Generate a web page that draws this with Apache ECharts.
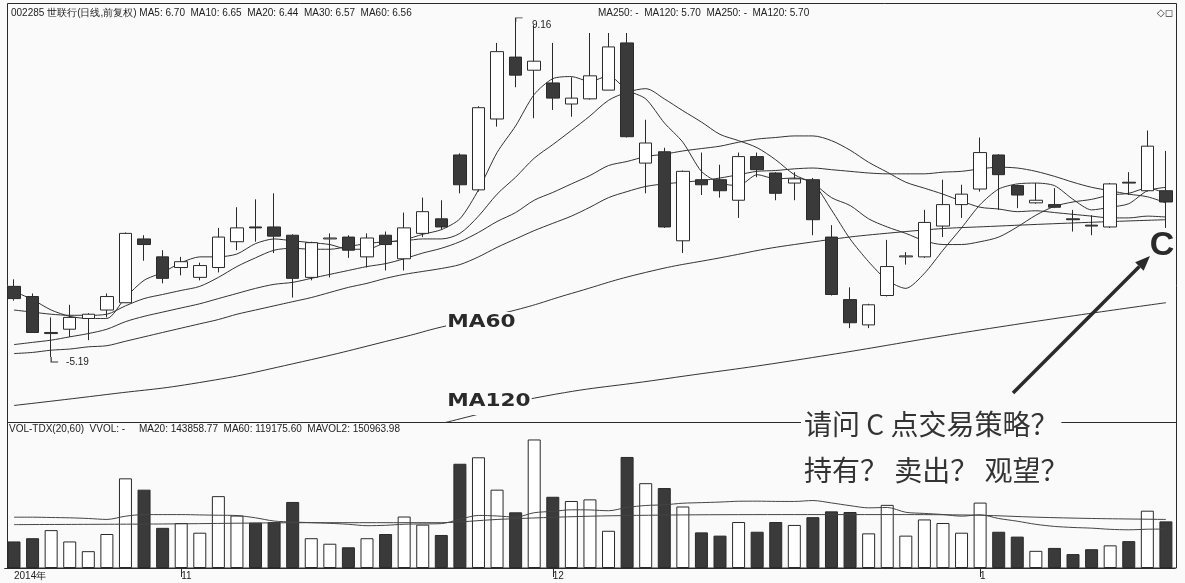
<!DOCTYPE html>
<html><head><meta charset="utf-8">
<script src="https://cdn.jsdelivr.net/npm/echarts@6/dist/echarts.min.js"></script>
<style>html,body{margin:0;padding:0;background:#fafafa}#c{width:1185px;height:583px}</style>
</head><body><div id="c"></div>
<script>
const dates = ['2014-10-21','2014-10-22','2014-10-23','2014-10-24','2014-10-27','2014-10-28','2014-10-29','2014-10-30','2014-10-31',
'2014-11-03','2014-11-04','2014-11-05','2014-11-06','2014-11-07','2014-11-10','2014-11-11','2014-11-12','2014-11-13','2014-11-14','2014-11-17','2014-11-18','2014-11-19','2014-11-20','2014-11-21','2014-11-24','2014-11-25','2014-11-26','2014-11-27','2014-11-28',
'2014-12-01','2014-12-02','2014-12-03','2014-12-04','2014-12-05','2014-12-08','2014-12-09','2014-12-10','2014-12-11','2014-12-12','2014-12-15','2014-12-16','2014-12-17','2014-12-18','2014-12-19','2014-12-22','2014-12-23','2014-12-24','2014-12-25','2014-12-26','2014-12-29','2014-12-30','2014-12-31',
'2015-01-05','2015-01-06','2015-01-07','2015-01-08','2015-01-09','2015-01-12','2015-01-13','2015-01-14','2015-01-15','2015-01-16','2015-01-19'];
const opens  = [5.85,5.75,5.40,5.44,5.54,5.62,5.69,6.34,6.15,6.04,5.94,6.04,6.31,6.47,6.47,6.38,5.94,6.34,6.36,6.15,6.38,6.13,6.40,6.56,7.31,6.89,7.77,8.63,8.44,8.26,7.97,8.04,8.16,8.84,7.21,7.35,6.32,7.01,7.01,6.77,7.29,7.09,6.97,7.01,6.36,5.72,5.48,5.76,6.15,6.15,6.48,6.72,6.90,7.31,6.94,6.74,6.72,6.56,6.49,6.47,6.98,6.88,6.88];
const closes = [5.73,5.41,5.41,5.55,5.58,5.75,6.40,6.28,5.93,6.10,6.06,6.36,6.46,6.46,6.37,5.93,6.30,6.35,6.22,6.35,6.28,6.46,6.64,6.47,6.95,7.92,8.71,8.37,8.57,8.05,8.05,8.36,8.78,7.54,7.46,6.47,7.11,6.95,6.88,7.29,7.13,6.85,7.02,6.55,5.77,5.50,5.67,6.05,6.16,6.52,6.72,6.84,7.34,7.07,6.83,6.77,6.69,6.55,6.48,6.96,6.97,7.42,6.75];
const highs  = [5.92,5.78,5.55,5.67,5.59,5.78,6.41,6.38,6.22,6.15,6.09,6.46,6.69,6.78,6.85,6.39,6.31,6.40,6.38,6.40,6.42,6.63,6.80,6.77,7.33,7.94,8.84,9.16,9.11,8.84,8.34,8.99,8.99,8.99,7.76,7.40,7.12,7.34,7.19,7.34,7.34,7.10,7.10,7.03,6.49,5.84,5.68,6.33,6.20,6.66,7.01,6.95,7.53,7.32,6.95,6.97,6.91,6.66,6.60,6.97,7.10,7.62,7.36];
const lows   = [5.71,5.41,5.19,5.37,5.34,5.55,5.69,6.11,5.88,5.96,5.91,5.99,6.22,6.31,6.19,5.74,5.91,5.94,6.14,6.04,6.01,6.01,6.36,6.44,6.85,6.87,7.67,8.20,7.78,7.89,7.80,8.03,8.16,7.53,6.85,6.46,6.19,6.83,6.80,6.57,7.04,6.77,6.77,6.38,5.76,5.45,5.45,5.75,6.07,6.14,6.36,6.57,6.87,6.66,6.68,6.73,6.68,6.42,6.38,6.46,6.83,6.87,6.46];
const ma5  = [5.80,5.72,5.62,5.56,5.54,5.54,5.74,5.91,5.99,6.09,6.15,6.15,6.18,6.29,6.34,6.32,6.30,6.28,6.23,6.23,6.30,6.33,6.39,6.44,6.56,6.89,7.34,7.68,8.10,8.32,8.35,8.28,8.36,8.16,8.04,7.72,7.47,7.11,6.97,6.94,7.07,7.02,7.03,6.97,6.66,6.34,6.10,5.91,5.83,5.98,6.22,6.46,6.72,6.90,6.96,6.97,6.94,6.78,6.66,6.69,6.73,6.88,6.92];
const ma10 = [5.62,5.60,5.58,5.57,5.57,5.58,5.66,5.73,5.77,5.81,5.85,5.94,6.05,6.14,6.22,6.24,6.23,6.23,6.26,6.29,6.31,6.32,6.34,6.34,6.40,6.59,6.84,7.04,7.27,7.44,7.62,7.81,8.02,8.13,8.18,8.04,7.88,7.73,7.57,7.49,7.40,7.25,7.07,6.97,6.80,6.71,6.56,6.47,6.40,6.32,6.28,6.28,6.31,6.36,6.47,6.60,6.70,6.75,6.78,6.83,6.85,6.91,6.85];
const ma20 = [5.30,5.32,5.34,5.37,5.40,5.44,5.51,5.56,5.60,5.64,5.68,5.73,5.78,5.83,5.87,5.89,5.93,5.97,6.01,6.05,6.08,6.13,6.19,6.24,6.31,6.41,6.53,6.63,6.77,6.86,6.96,7.06,7.18,7.23,7.29,7.32,7.36,7.39,7.42,7.47,7.51,7.53,7.55,7.55,7.49,7.37,7.22,7.10,6.98,6.91,6.84,6.76,6.69,6.67,6.64,6.65,6.63,6.61,6.59,6.57,6.57,6.59,6.58];
const ma30 = [5.22,5.23,5.25,5.26,5.28,5.29,5.33,5.37,5.41,5.45,5.49,5.53,5.58,5.62,5.66,5.70,5.74,5.79,5.84,5.88,5.93,5.97,6.00,6.03,6.07,6.15,6.25,6.34,6.43,6.51,6.59,6.69,6.80,6.87,6.93,6.96,6.98,7.00,7.03,7.07,7.11,7.12,7.14,7.15,7.13,7.11,7.09,7.08,7.08,7.08,7.10,7.11,7.14,7.16,7.15,7.11,7.05,6.98,6.92,6.88,6.84,6.81,6.74];
const ma60Points  = [[0,4.78],[5,4.87],[10,4.97],[15,5.13],[21,5.37],[23,5.46],[27,5.62],[30,5.78],[34,5.99],[38,6.14],[42,6.28],[48,6.42],[53,6.48],[62,6.55]];
const ma120Points = [[0,4.10],[10,4.33],[21,4.58],[25,4.71],[28,4.84],[35,5.00],[42,5.16],[53,5.46],[62,5.69]];
const volumes = [82000,92000,117000,82000,52000,105000,277000,242000,124000,139000,109000,222000,162000,140000,142000,204000,92000,75000,64000,92000,105000,159000,134000,102000,322000,342000,242000,172000,397000,220000,207000,212000,115000,343000,262000,247000,190000,110000,100000,142000,112000,142000,133000,157000,175000,173000,107000,195000,100000,150000,139000,109000,202000,112000,97000,53000,62000,43000,58000,70000,83000,177000,144000];
const volMa20 = [157000,157000,156000,155000,153000,150000,160000,165000,165000,165000,164000,163000,162000,155000,145000,142000,140000,138000,135000,130700,131900,135200,136100,137100,150600,162400,160700,157200,170800,174900,179800,179300,176900,187100,193100,195200,200100,201900,203700,206200,206500,205700,205600,208400,201000,192600,185800,187000,172100,168600,165200,160100,164400,152900,144600,134900,128500,125200,123100,119500,118000,119800,120300];
const volMa60Points = [[0,134000],[8,136000],[16,140000],[23,140000],[26,150000],[31,160000],[36,164000],[42,165000],[48,165000],[52,163000],[55,157000],[58,153000],[62,150000]];
const headerMain = '002285 世联行(日线,前复权) MA5: 6.70  MA10: 6.65  MA20: 6.44  MA30: 6.57  MA60: 6.56';
const headerRight = 'MA250: -  MA120: 5.70  MA250: -  MA120: 5.70';
const headerVol = 'VOL-TDX(20,60)  VVOL: -     MA20: 143858.77  MA60: 119175.60  MAVOL2: 150963.98';
const question1 = '请问 C 点交易策略？';
const question2 = '持有？ 卖出？ 观望？';

const BG = '#fafafa', INK = '#2a2a2a', DARK = '#3a3a3a';
const candles = dates.map((d, i) => [opens[i], closes[i], lows[i], highs[i]]);
let hiIdx = 0, loIdx = 0;
highs.forEach((v, i) => { if (v > highs[hiIdx]) hiIdx = i; });
lows.forEach((v, i) => { if (v < lows[loIdx]) loIdx = i; });
const monthStart = i => i > 0 && dates[i].slice(5, 7) !== dates[i - 1].slice(5, 7);

function maLine(data, smooth) {
  return { type: 'line', data, xAxisIndex: 0, yAxisIndex: 0, showSymbol: false, symbol: 'none',
    smooth, connectNulls: true, clip: true, silent: true, z: 3,
    lineStyle: { color: '#333', width: 1 } };
}
function volLine(data) {
  return { type: 'line', data, xAxisIndex: 1, yAxisIndex: 1, showSymbol: false, symbol: 'none',
    smooth: 0.3, silent: true, z: 3, lineStyle: { color: '#444', width: 1 } };
}

const aS = [1013, 393], aT = [1150, 256];
const adx = aT[0] - aS[0], ady = aT[1] - aS[1], alen = Math.hypot(adx, ady);
const ux = adx / alen, uy = ady / alen, px = -uy, py = ux;
const bx = aT[0] - 15 * ux, by = aT[1] - 15 * uy;

const chart = echarts.init(document.getElementById('c'));
chart.setOption({
  animation: false,
  backgroundColor: BG,
  textStyle: { fontFamily: 'Liberation Sans, Arial, sans-serif' },
  grid: [
    { left: 4.7, width: 1170.5, top: 3, height: 419 },
    { left: 4.7, width: 1170.5, top: 422, height: 146 }
  ],
  xAxis: [
    { type: 'category', gridIndex: 0, data: dates, boundaryGap: true, show: false },
    { type: 'category', gridIndex: 1, data: dates, boundaryGap: true,
      axisLine: { show: true, lineStyle: { color: INK, width: 1 } },
      axisTick: { show: true, alignWithLabel: true, length: 9, interval: (i) => monthStart(i), lineStyle: { color: INK } },
      axisLabel: { interval: (i) => i === 0 || monthStart(i), align: 'left', margin: 3, fontSize: 10, color: '#222',
        formatter: (v, i) => i === 0 ? v.slice(0, 4) + '年' : String(+v.slice(5, 7)) },
      splitLine: { show: false } }
  ],
  yAxis: [
    { type: 'log', logBase: 10, gridIndex: 0, min: 4.648, max: 9.459, show: false, splitLine: { show: false } },
    { type: 'value', gridIndex: 1, min: 0, max: 451000, show: false, splitLine: { show: false } }
  ],
  series: [
    { type: 'candlestick', data: candles, xAxisIndex: 0, yAxisIndex: 0, barWidth: 13, z: 4,
      itemStyle: { color: '#ffffff', color0: DARK, borderColor: INK, borderColor0: INK, borderWidth: 1 },
      markPoint: {
        silent: true,
        itemStyle: { color: 'none', borderColor: '#333', borderWidth: 1 },
        label: { show: true, position: 'right', fontSize: 10, color: '#222', fontFamily: 'Liberation Sans' },
        data: [
          { coord: [hiIdx, highs[hiIdx]], value: highs[hiIdx], symbol: 'path://M0 6 L0 0 L10 0', symbolSize: [7, 4], symbolOffset: [3.5, -2], symbolKeepAspect: false,
            label: { formatter: () => highs[hiIdx].toFixed(2), offset: [1, 5] } },
          { coord: [loIdx, lows[loIdx]], value: lows[loIdx], symbol: 'path://M0 0 L0 6 L10 6', symbolSize: [7, 5], symbolOffset: [3.5, 2.5], symbolKeepAspect: false,
            label: { formatter: () => '-' + lows[loIdx].toFixed(2), offset: [0, 3] } }
        ]
      } },
    maLine(ma5, 0.25), maLine(ma10, 0.3), maLine(ma20, 0.3), maLine(ma30, 0.3),
    maLine(ma60Points, true), maLine(ma120Points, true),
    { type: 'bar', data: volumes, xAxisIndex: 1, yAxisIndex: 1, barWidth: 13, z: 2,
      itemStyle: { color: (p) => closes[p.dataIndex] >= opens[p.dataIndex] ? '#ffffff' : DARK, borderColor: INK, borderWidth: 1 } },
    volLine(volMa20), volLine(volMa60Points)
  ],
  graphic: [
    { type: 'rect', silent: true, z: 50, shape: { x: 7.5, y: 3.5, width: 1169, height: 564.5 }, style: { fill: null, stroke: INK, lineWidth: 1 } },
    { type: 'text', silent: true, z: 55, x: 11, y: 13, style: { text: headerMain, font: '10px "Liberation Sans"', fill: '#222', align: 'left', verticalAlign: 'middle' } },
    { type: 'text', silent: true, z: 55, x: 598, y: 13, style: { text: headerRight, font: '10px "Liberation Sans"', fill: '#222', align: 'left', verticalAlign: 'middle' } },
    { type: 'text', silent: true, z: 55, x: 1157, y: 13, style: { text: '◇◻', font: '10px "DejaVu Sans"', fill: '#333', align: 'left', verticalAlign: 'middle' } },
    { type: 'text', silent: true, z: 55, x: 9, y: 429, style: { text: headerVol, font: '10px "Liberation Sans"', fill: '#222', align: 'left', verticalAlign: 'middle' } },
    { type: 'text', silent: true, z: 55, x: 446, y: 322, scaleX: 1.2, style: { text: 'MA60', font: 'bold 18px "DejaVu Sans"', fill: INK, align: 'left', verticalAlign: 'middle', backgroundColor: BG, padding: [1, 1] } },
    { type: 'text', silent: true, z: 55, x: 446, y: 401, scaleX: 1.2, style: { text: 'MA120', font: 'bold 18px "DejaVu Sans"', fill: INK, align: 'left', verticalAlign: 'middle', backgroundColor: BG, padding: [1, 1, 9, 1] } },
    { type: 'line', silent: true, z: 56, shape: { x1: 7.5, y1: 422.5, x2: 1176.5, y2: 422.5 }, style: { stroke: INK, lineWidth: 1 } },
    { type: 'text', silent: true, z: 60, x: 1162, y: 246, style: { text: 'C', font: 'bold 34px "Liberation Sans"', fill: INK, align: 'center', verticalAlign: 'middle' } },
    { type: 'line', silent: true, z: 60, shape: { x1: aS[0], y1: aS[1], x2: bx, y2: by }, style: { stroke: INK, lineWidth: 3.5 } },
    { type: 'polygon', silent: true, z: 60, shape: { points: [aT, [bx + 6 * px, by + 6 * py], [bx - 6 * px, by - 6 * py]] }, style: { fill: INK } },
    { type: 'text', silent: true, z: 60, x: 801, y: 424, style: { text: question1, font: '28px "Noto Sans CJK SC"', fill: '#333', align: 'left', verticalAlign: 'middle', backgroundColor: BG, padding: [0, 3] } },
    { type: 'text', silent: true, z: 60, x: 804, y: 470, style: { text: question2, font: '28px "Noto Sans CJK SC"', fill: '#333', align: 'left', verticalAlign: 'middle' } }
  ]
});
</script>
</body></html>
